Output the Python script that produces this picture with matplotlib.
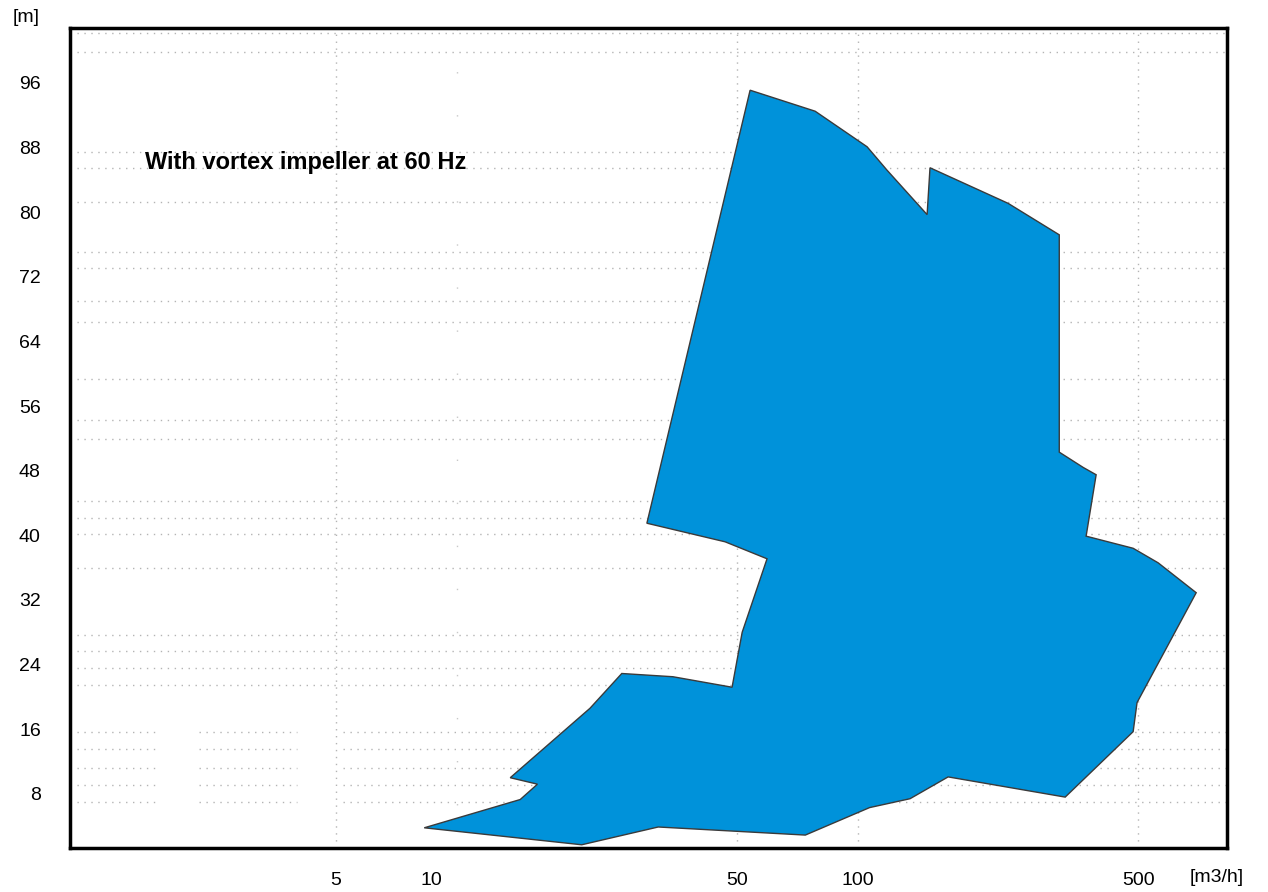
import numpy as np
import matplotlib.pyplot as plt
from matplotlib.transforms import ScaledTranslation

plt.rcParams['font.family'] = ['Liberation Sans', 'DejaVu Sans']

# envelope of the pump range (flow m3/h, head m), clockwise from the peak
flow = [53.9, 78.3, 105.5, 118.3, 148.9, 151.4, 237, 318, 318, 365, 393, 371,
        486, 561, 698, 497, 486, 329, 168, 135, 107, 74, 31.8, 20.5, 8.3,
        14.4, 15.9, 13.6, 21.5, 25.8, 34.6, 48.6, 51.5, 59.4, 46.7, 29.8]
head = [95.1, 92.5, 88.1, 85.2, 79.7, 85.5, 81.1, 77.2, 50.3, 48.4, 47.5, 39.9,
        38.4, 36.6, 32.9, 19.3, 15.7, 7.6, 10.1, 7.4, 6.3, 2.9, 3.9, 1.7, 3.8,
        7.3, 9.2, 10.0, 18.6, 22.9, 22.5, 21.2, 28.0, 37.1, 39.2, 41.5]

x_ticks = [5, 10, 50, 100, 500]
y_ticks = [8, 16, 24, 32, 40, 48, 56, 64, 72, 80, 88, 96]
h_grid_low = [7.0, 9.1, 11.2, 13.5, 15.6]
h_grid = [21.5, 23.6, 25.7, 27.7, 35.9, 40.2, 42.2, 44.3, 51.9, 54.3, 59.4,
          66.4, 69.0, 73.1, 75.1, 81.3, 85.5, 87.5, 99.8, 102.2]
v_grid = [5, 50, 100, 500]

fig = plt.figure(figsize=(12.68, 8.92), dpi=100)
ax = fig.add_axes([70 / 1268, 44 / 892, 1157 / 1268, 820 / 892])
ax.set_xscale('log')
xmin, xmax = 1.086, 833
ax.set_xlim(xmin, xmax)
ax.set_ylim(1.3, 102.8)

dots = (0, (1, 4))
gc = '#b4b4b4'
for g in h_grid:
    ax.axhline(g, color=gc, lw=1, ls=dots, zorder=0)
# the lower lines are broken in two places on the left
for g in h_grid_low:
    for a, b in [(xmin, 1.82), (2.28, 4.0), (5.2, xmax)]:
        ax.plot([a, b], [g, g], color=gc, lw=1, ls=dots, zorder=0)
for g in v_grid:
    ax.axvline(g, color=gc, lw=1, ls=dots, zorder=0)
ax.axvline(10, color='#c8c8c8', lw=1, ls=(0, (1, 30)), zorder=0)

ax.fill(flow, head, facecolor='#0092da', edgecolor='#3a3a3a', lw=1.0, zorder=2)

ax.text(1.67, 86.2, 'With vortex impeller at 60 Hz', fontsize=17,
        fontweight='bold', ha='left', va='center')

ax.set_xticks(x_ticks)
ax.set_xticklabels([str(v) for v in x_ticks])
ax.xaxis.set_minor_locator(plt.NullLocator())
ax.set_yticks(y_ticks)
ax.tick_params(length=0, labelsize=14)
ax.tick_params(axis='y', pad=21)
ax.tick_params(axis='x', pad=17)

# the "10" label sits left of its gridline in the original
lab10 = ax.get_xticklabels()[1]
lab10.set_transform(lab10.get_transform() + ScaledTranslation(-0.25, 0, fig.dpi_scale_trans))

for s in ax.spines.values():
    s.set_linewidth(2.5)
    s.set_color('black')

fig.text(26 / 1268, 1 - 18 / 892, '[m]', fontsize=14, ha='center', va='center')
fig.text(1217 / 1268, 1 - 878 / 892, '[m3/h]', fontsize=14, ha='center', va='center')

fig.savefig('out.png', dpi=100)
